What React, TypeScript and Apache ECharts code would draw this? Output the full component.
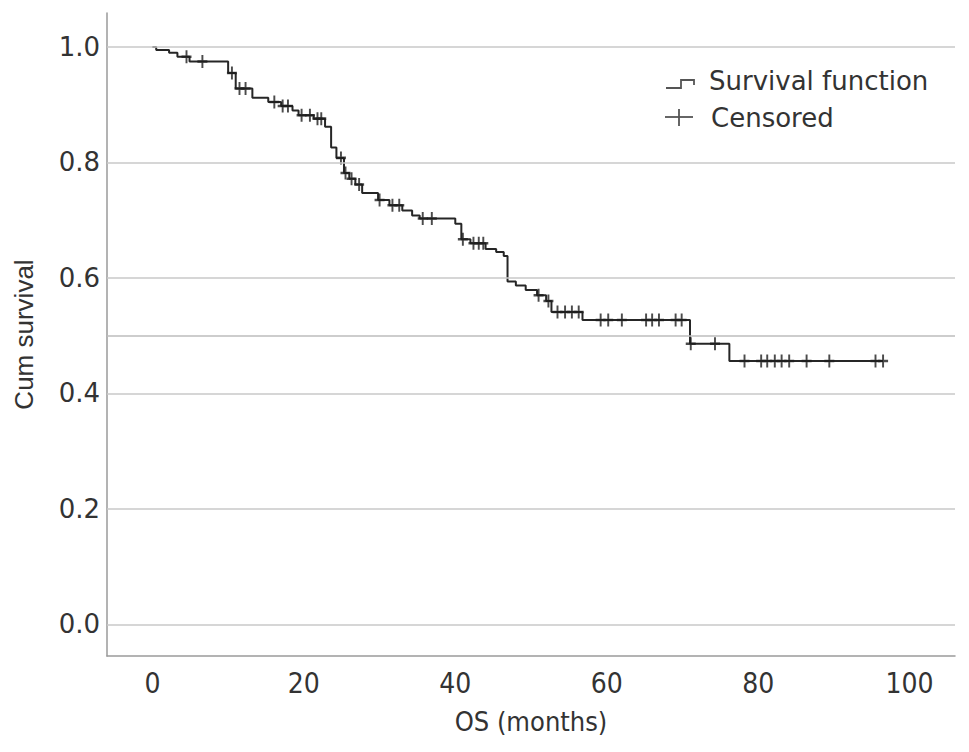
import React, { useEffect, useRef } from "react";
import * as echarts from "echarts";

// Kaplan-Meier event points (time in months, cumulative survival after the drop)
const eventTimes = [0, 0.5, 2.2, 3.3, 4.9, 10.0, 11.0, 13.2, 15.3, 17.0, 18.5, 19.3, 21.3, 22.8, 23.6, 24.3, 25.3, 26.0, 26.8, 27.7, 29.8, 31.3, 33.0, 34.3, 35.3, 40.0, 40.8, 42.0, 44.0, 45.4, 46.4, 46.9, 48.0, 49.3, 50.8, 52.0, 52.7, 56.8, 71.0, 76.2];
const eventSurv = [1.0, 0.995, 0.99, 0.983, 0.975, 0.955, 0.928, 0.912, 0.905, 0.898, 0.89, 0.882, 0.876, 0.862, 0.826, 0.808, 0.782, 0.772, 0.762, 0.747, 0.735, 0.726, 0.717, 0.708, 0.703, 0.694, 0.667, 0.66, 0.65, 0.645, 0.638, 0.594, 0.587, 0.579, 0.57, 0.56, 0.541, 0.527, 0.486, 0.456];
const endTime = 96.5;

// Censored observation times (months)
const censorTimes = [4.5, 6.6, 10.5, 11.5, 12.3, 16.1, 17.2, 17.9, 19.7, 20.8, 21.8, 22.3, 24.9, 25.5, 26.3, 27.3, 30.0, 31.7, 32.6, 35.7, 36.9, 41.0, 42.4, 43.1, 43.7, 51.0, 52.3, 53.5, 54.5, 55.4, 56.3, 59.2, 60.2, 62.0, 65.2, 66.0, 66.9, 69.1, 69.9, 71.1, 74.3, 78.2, 80.4, 81.2, 82.2, 83.1, 84.1, 86.4, 89.4, 95.5, 96.5];

const xTicks = [0, 20, 40, 60, 80, 100];
const yTicks = [0, 0.2, 0.4, 0.6, 0.8, 1.0];
const refLine = 0.5;

const survAt = (t: number) => {
  let s = eventSurv[0];
  for (let i = 0; i < eventTimes.length; i++) {
    if (eventTimes[i] <= t) s = eventSurv[i];
  }
  return s;
};

export default function App() {
  const ref = useRef<HTMLDivElement>(null);
  useEffect(() => {
    if (!ref.current) return;
    const chart = echarts.init(ref.current, undefined, { renderer: "svg" });
    const curve = eventTimes.map((t, i) => [t, eventSurv[i]]);
    curve.push([endTime, eventSurv[eventSurv.length - 1]]);
    const censored = censorTimes.map((t) => [t, survAt(t)]);
    const gridColor = "#c9c9c9";
    chart.setOption({
      animation: false,
      backgroundColor: "#ffffff",
      grid: { left: 107, right: 14, top: 13, bottom: 96, containLabel: false, outerBoundsMode: "none" },
      xAxis: {
        type: "value",
        min: -6,
        max: 106,
        name: "OS (months)",
        nameLocation: "middle",
        nameGap: 52,
        nameTextStyle: { fontFamily: "DejaVu Sans Condensed, Liberation Sans Narrow, sans-serif", fontSize: 27, color: "#333" },
        axisLine: { show: true, onZero: false, lineStyle: { color: "#9a9a9a", width: 1.5 } },
        axisTick: { show: false },
        splitLine: { show: false },
        axisLabel: {
          customValues: xTicks,
          margin: 13,
          fontFamily: "DejaVu Sans Condensed, Liberation Sans Narrow, sans-serif",
          fontSize: 28,
          color: "#333",
          formatter: (v: number) => String(v),
        },
      },
      yAxis: {
        type: "value",
        min: -0.055,
        max: 1.059,
        name: "Cum survival",
        nameLocation: "middle",
        nameGap: 70,
        nameTextStyle: { fontFamily: "Liberation Sans, Arial, sans-serif", fontSize: 26, color: "#333" },
        axisLine: { show: true, onZero: false, lineStyle: { color: "#9a9a9a", width: 1.5 } },
        axisTick: { show: false },
        splitLine: { show: false },
        axisLabel: {
          customValues: yTicks,
          margin: 7,
          fontFamily: "DejaVu Sans, sans-serif",
          fontSize: 26,
          color: "#333",
          formatter: (v: number) => v.toFixed(1),
        },
      },
      series: [
        {
          type: "line",
          name: "grid",
          data: [],
          z: 1,
          silent: true,
          markLine: {
            silent: true,
            symbol: ["none", "none"],
            label: { show: false },
            lineStyle: { color: gridColor, width: 1.5, type: "solid" },
            data: [...yTicks.map((v) => ({ yAxis: v })), { yAxis: refLine, lineStyle: { color: "#bdbdbd", width: 1.5 } }],
          },
        },
        {
          type: "line",
          name: "Survival function",
          data: curve,
          step: "end",
          showSymbol: false,
          symbol: "none",
          z: 3,
          lineStyle: { color: "#262626", width: 2 },
        },
        {
          type: "scatter",
          name: "Censored",
          data: censored,
          z: 4,
          symbol: "path://M5,0 L5,12 M0,6 L10,6",
          symbolSize: [10, 13],
          itemStyle: { color: "rgba(0,0,0,0)", borderColor: "#1e1e1e", borderWidth: 2.2 },
        },
      ],
      graphic: [
        {
          type: "polyline",
          shape: { points: [[666, 88], [681, 88], [681, 80], [694, 80], [694, 85]] },
          style: { stroke: "#555", lineWidth: 1.8, fill: null },
        },
        {
          type: "text",
          x: 709,
          y: 81,
          style: { text: "Survival function", fontFamily: "DejaVu Sans, sans-serif", fontSize: 26, fill: "#333", verticalAlign: "middle" },
        },
        { type: "line", shape: { x1: 665, y1: 117, x2: 693, y2: 117 }, style: { stroke: "#555", lineWidth: 1.8 } },
        { type: "line", shape: { x1: 679, y1: 109, x2: 679, y2: 126 }, style: { stroke: "#555", lineWidth: 1.8 } },
        {
          type: "text",
          x: 711,
          y: 118,
          style: { text: "Censored", fontFamily: "DejaVu Sans, sans-serif", fontSize: 26, fill: "#333", verticalAlign: "middle" },
        },
      ],
    });
    return () => chart.dispose();
  }, []);
  return <div ref={ref} style={{ position: "fixed", left: 0, top: 0, width: 969, height: 752 }} />;
}
